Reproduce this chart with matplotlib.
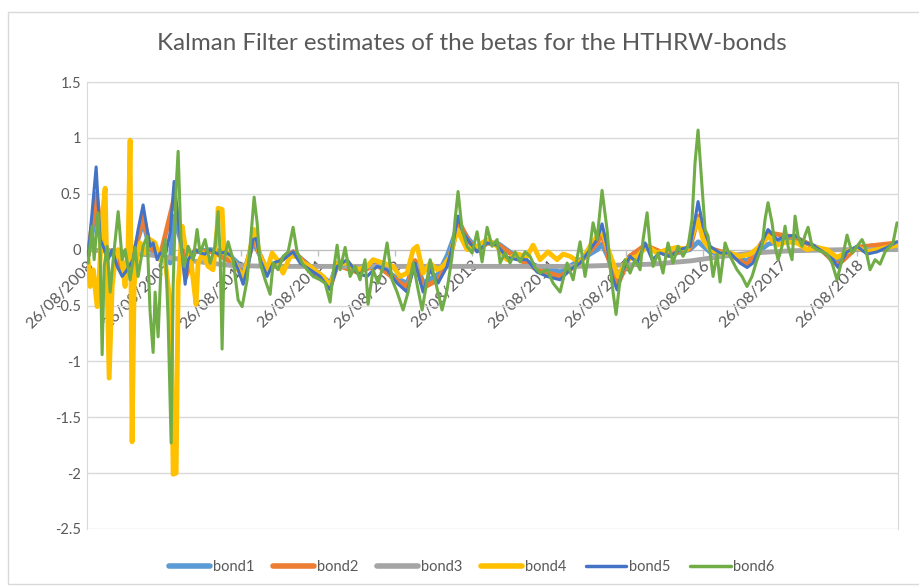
import matplotlib
matplotlib.use('Agg')
import matplotlib.pyplot as plt
from matplotlib.patches import Rectangle
from datetime import datetime

# ---- data (time in decimal years, value = beta) ----
bond1_t = [2008.665, 2008.77, 2008.86, 2009.0, 2009.11, 2009.25, 2009.38, 2009.47, 2009.6, 2009.73,
           2009.78, 2009.86, 2009.93, 2010.05, 2010.25, 2010.45, 2010.61, 2010.68, 2010.81, 2010.99,
           2011.2, 2011.33, 2011.55, 2011.81, 2011.9, 2012.16, 2012.42, 2012.68, 2012.81, 2012.91,
           2013.02, 2013.21, 2013.33, 2013.41, 2013.47, 2013.6, 2013.72, 2013.85, 2014.0, 2014.24,
           2014.5, 2014.8, 2015.06, 2015.28, 2015.34, 2015.47, 2015.54, 2015.7, 2015.9, 2016.2,
           2016.48, 2016.59, 2016.74, 2017.0, 2017.22, 2017.5, 2017.85, 2018.2, 2018.4, 2018.65,
           2019.171]
bond1_v = [-0.05, 0.35, 0.0, -0.05, -0.15, -0.05, 0.25, 0.0, -0.05, -0.12,
           0.3, 0.1, -0.2, -0.02, 0.0, -0.02, -0.12, -0.22, 0.07, -0.18,
           -0.08, -0.02, -0.15, -0.3, -0.13, -0.18, -0.13, -0.26, -0.3, -0.1,
           -0.3, -0.22, -0.05, 0.1, 0.24, 0.1, 0.0, 0.07, 0.05, -0.07,
           -0.15, -0.2, -0.09, 0.0, 0.05, -0.15, -0.27, -0.06, 0.03, -0.05,
           0.0, 0.07, -0.02, -0.05, -0.1, 0.05, 0.1, 0.0, -0.1, 0.02,
           0.05]

bond2_t = [2008.665, 2008.77, 2008.86, 2009.0, 2009.11, 2009.25, 2009.38, 2009.47, 2009.6, 2009.78,
           2009.86, 2009.93, 2010.05, 2010.3, 2010.61, 2010.68, 2010.81, 2010.99, 2011.2, 2011.33,
           2011.55, 2011.81, 2011.9, 2012.16, 2012.42, 2012.68, 2012.81, 2012.91, 2013.02, 2013.21,
           2013.33, 2013.41, 2013.47, 2013.6, 2013.72, 2013.85, 2014.0, 2014.24, 2014.5, 2014.8,
           2015.06, 2015.28, 2015.34, 2015.47, 2015.54, 2015.7, 2015.9, 2016.2, 2016.48, 2016.59,
           2016.66, 2016.74, 2017.0, 2017.22, 2017.5, 2017.85, 2018.2, 2018.4, 2018.65, 2019.171]
bond2_v = [-0.05, 0.5, 0.02, -0.03, -0.2, -0.07, 0.3, 0.02, -0.06, 0.45,
           0.2, -0.25, -0.01, -0.02, -0.15, -0.27, 0.1, -0.2, -0.08, -0.02,
           -0.16, -0.33, -0.14, -0.2, -0.14, -0.28, -0.34, -0.1, -0.34, -0.27,
           -0.13, 0.05, 0.27, 0.08, -0.01, 0.06, 0.04, -0.08, -0.18, -0.24,
           -0.11, 0.06, 0.15, -0.2, -0.32, -0.06, 0.04, -0.05, 0.01, 0.3,
           0.15, 0.01, -0.04, -0.14, 0.15, 0.11, -0.01, -0.14, 0.02, 0.06]

bond3_t = [2008.665, 2009.0, 2009.5, 2010.0, 2010.5, 2011.0, 2011.5, 2012.0, 2013.0, 2014.0,
           2015.0, 2015.5, 2016.0, 2016.5, 2016.9, 2017.3, 2017.8, 2018.5, 2019.171]
bond3_v = [0.0, -0.02, -0.05, -0.1, -0.14, -0.15, -0.15, -0.15, -0.15, -0.15,
           -0.15, -0.14, -0.13, -0.1, -0.06, -0.03, -0.01, 0.0, 0.0]

bond4_t = [2008.665, 2008.691, 2008.730, 2008.782, 2008.821, 2008.847, 2008.886, 2008.912, 2008.938, 2008.977,
           2009.016, 2009.055, 2009.107, 2009.145, 2009.184, 2009.210, 2009.223, 2009.236, 2009.262, 2009.301,
           2009.340, 2009.405, 2009.470, 2009.535, 2009.600, 2009.665, 2009.704, 2009.743, 2009.769, 2009.808,
           2009.834, 2009.886, 2009.925, 2009.990, 2010.029, 2010.067, 2010.093, 2010.158, 2010.223, 2010.288,
           2010.340, 2010.353, 2010.405, 2010.431, 2010.483, 2010.548, 2010.613, 2010.678, 2010.743, 2010.821,
           2010.899, 2010.990, 2011.055, 2011.119, 2011.197, 2011.288, 2011.379, 2011.457, 2011.548, 2011.639,
           2011.717, 2011.808, 2011.899, 2012.029, 2012.158, 2012.288, 2012.366, 2012.496, 2012.626, 2012.717,
           2012.808, 2012.886, 2012.938, 2013.016, 2013.107, 2013.197, 2013.275, 2013.366, 2013.457, 2013.522,
           2013.587, 2013.717, 2013.847, 2013.977, 2014.106, 2014.236, 2014.366, 2014.444, 2014.535, 2014.639,
           2014.756, 2014.834, 2014.925, 2015.055, 2015.184, 2015.275, 2015.340, 2015.405, 2015.483, 2015.548,
           2015.665, 2015.795, 2015.925, 2016.054, 2016.184, 2016.314, 2016.444, 2016.522, 2016.587, 2016.652,
           2016.743, 2016.873, 2017.003, 2017.132, 2017.262, 2017.392, 2017.496, 2017.613, 2017.743, 2017.873,
           2018.003, 2018.132, 2018.262, 2018.392, 2018.522, 2018.652, 2018.782, 2018.912, 2019.042, 2019.171]
bond4_v = [-0.09, -0.33, -0.18, -0.51, -0.09, 0.27, 0.55, -0.33, -1.15, -0.33,
           -0.09, 0.0, -0.12, -0.33, 0.03, 0.98, -0.33, -1.72, -0.33, -0.03,
           0.06, -0.03, 0.09, 0.06, -0.09, -0.09, -0.33, -0.51, -2.01, -2.0,
           -0.33, 0.21, 0.03, -0.03, -0.27, -0.49, -0.12, -0.03, -0.15, -0.18,
           0.18, 0.37, 0.36, -0.03, -0.03, -0.09, -0.18, -0.24, -0.09, 0.18,
           -0.06, -0.18, -0.03, -0.09, -0.21, -0.06, -0.06, -0.12, -0.15, -0.2,
           -0.24, -0.33, -0.12, -0.12, -0.18, -0.15, -0.09, -0.12, -0.15, -0.24,
           -0.21, 0.0, 0.03, -0.21, -0.12, -0.18, -0.15, -0.06, 0.18, 0.09,
           0.0, 0.03, 0.09, 0.03, -0.09, -0.04, -0.06, 0.04, -0.09, -0.02,
           -0.09, -0.04, -0.06, -0.12, 0.03, 0.12, 0.18, 0.03, -0.12, -0.24,
           -0.09, -0.06, 0.03, -0.03, 0.0, 0.02, 0.0, 0.15, 0.27, 0.09,
           0.0, -0.03, -0.03, -0.06, -0.04, 0.03, 0.12, 0.04, 0.07, 0.06,
           0.0, 0.02, 0.0, -0.07, -0.02, 0.02, -0.02, 0.0, 0.02, 0.04]

bond5_t = [2008.665, 2008.769, 2008.821, 2008.860, 2008.925, 2008.977, 2009.042, 2009.107, 2009.171, 2009.249,
           2009.314, 2009.379, 2009.431, 2009.470, 2009.509, 2009.561, 2009.600, 2009.665, 2009.730, 2009.782,
           2009.834, 2009.886, 2009.925, 2009.964, 2010.055, 2010.120, 2010.184, 2010.249, 2010.353, 2010.444,
           2010.535, 2010.613, 2010.678, 2010.743, 2010.808, 2010.847, 2010.899, 2010.990, 2011.068, 2011.197,
           2011.327, 2011.418, 2011.548, 2011.678, 2011.808, 2011.899, 2012.029, 2012.158, 2012.288, 2012.418,
           2012.548, 2012.678, 2012.808, 2012.912, 2013.016, 2013.107, 2013.210, 2013.327, 2013.405, 2013.470,
           2013.535, 2013.626, 2013.717, 2013.847, 2013.977, 2014.106, 2014.236, 2014.366, 2014.496, 2014.626,
           2014.795, 2014.925, 2015.055, 2015.184, 2015.275, 2015.340, 2015.405, 2015.470, 2015.535, 2015.613,
           2015.704, 2015.795, 2015.899, 2015.990, 2016.093, 2016.223, 2016.353, 2016.483, 2016.548, 2016.587,
           2016.652, 2016.743, 2016.873, 2017.003, 2017.132, 2017.223, 2017.301, 2017.392, 2017.496, 2017.613,
           2017.743, 2017.847, 2017.951, 2018.081, 2018.210, 2018.340, 2018.405, 2018.522, 2018.652, 2018.782,
           2018.912, 2019.042, 2019.171]
bond5_v = [-0.06, 0.74, 0.09, 0.03, -0.09, 0.0, -0.15, -0.24, -0.18, -0.09,
           0.18, 0.40, 0.18, 0.03, 0.06, -0.09, -0.03, -0.06, 0.15, 0.61,
           0.27, -0.03, -0.31, -0.09, 0.0, -0.03, -0.04, 0.0, -0.04, -0.02,
           -0.06, -0.18, -0.31, -0.15, 0.09, 0.10, -0.09, -0.24, -0.12, -0.09,
           -0.02, -0.12, -0.18, -0.24, -0.36, -0.15, -0.09, -0.21, -0.24, -0.15,
           -0.18, -0.30, -0.38, -0.12, -0.38, -0.18, -0.30, -0.15, 0.06, 0.30,
           0.15, 0.06, -0.02, 0.06, 0.04, -0.07, -0.09, -0.09, -0.20, -0.24,
           -0.27, -0.18, -0.12, 0.0, 0.09, 0.23, 0.03, -0.24, -0.36, -0.18,
           -0.06, -0.12, 0.06, -0.09, -0.03, -0.06, 0.0, 0.03, 0.27, 0.43,
           0.21, 0.03, -0.03, -0.03, -0.12, -0.16, -0.12, 0.03, 0.18, 0.09,
           0.12, 0.13, 0.07, 0.04, -0.02, -0.09, -0.16, -0.02, 0.03, -0.04,
           -0.02, 0.02, 0.07]

bond6_t = [2008.665, 2008.717, 2008.743, 2008.795, 2008.821, 2008.847, 2008.873, 2008.912, 2008.951, 2008.990,
           2009.055, 2009.107, 2009.145, 2009.210, 2009.275, 2009.314, 2009.379, 2009.431, 2009.470, 2009.509,
           2009.535, 2009.574, 2009.613, 2009.665, 2009.704, 2009.743, 2009.769, 2009.808, 2009.834, 2009.873,
           2009.912, 2009.964, 2010.029, 2010.080, 2010.119, 2010.184, 2010.249, 2010.314, 2010.353, 2010.379,
           2010.405, 2010.431, 2010.483, 2010.548, 2010.613, 2010.665, 2010.730, 2010.769, 2010.821, 2010.860,
           2010.899, 2010.964, 2011.029, 2011.068, 2011.132, 2011.197, 2011.262, 2011.327, 2011.379, 2011.444,
           2011.509, 2011.587, 2011.678, 2011.743, 2011.808, 2011.847, 2011.899, 2011.938, 2012.003, 2012.068,
           2012.132, 2012.197, 2012.262, 2012.301, 2012.366, 2012.431, 2012.496, 2012.548, 2012.613, 2012.678,
           2012.756, 2012.821, 2012.886, 2012.951, 2013.003, 2013.068, 2013.107, 2013.171, 2013.262, 2013.327,
           2013.392, 2013.431, 2013.470, 2013.522, 2013.587, 2013.652, 2013.717, 2013.782, 2013.847, 2013.912,
           2013.977, 2014.016, 2014.080, 2014.145, 2014.210, 2014.275, 2014.340, 2014.405, 2014.470, 2014.535,
           2014.626, 2014.704, 2014.795, 2014.886, 2014.964, 2015.055, 2015.119, 2015.184, 2015.223, 2015.275,
           2015.340, 2015.405, 2015.444, 2015.483, 2015.522, 2015.574, 2015.639, 2015.704, 2015.769, 2015.834,
           2015.873, 2015.925, 2015.964, 2016.003, 2016.067, 2016.132, 2016.197, 2016.262, 2016.327, 2016.392,
           2016.457, 2016.509, 2016.548, 2016.587, 2016.639, 2016.678, 2016.717, 2016.782, 2016.834, 2016.873,
           2016.938, 2017.003, 2017.093, 2017.158, 2017.223, 2017.288, 2017.353, 2017.418, 2017.457, 2017.496,
           2017.548, 2017.587, 2017.626, 2017.678, 2017.717, 2017.756, 2017.808, 2017.847, 2017.886, 2017.938,
           2017.977, 2018.016, 2018.067, 2018.132, 2018.197, 2018.262, 2018.327, 2018.392, 2018.457, 2018.522,
           2018.587, 2018.652, 2018.717, 2018.756, 2018.821, 2018.886, 2018.951, 2019.016, 2019.080, 2019.119,
           2019.171]
bond6_v = [-0.12, 0.21, -0.09, 0.33, -0.03, -0.94, -0.15, 0.03, -0.38, -0.09,
           0.34, -0.09, 0.0, -0.27, 0.02, -0.24, 0.03, 0.12, -0.56, -0.92,
           -0.38, -0.78, -0.12, 0.09, -0.63, -1.73, -0.33, 0.56, 0.88, 0.03,
           -0.15, 0.03, -0.09, 0.18, -0.03, 0.09, -0.12, 0.03, 0.34, -0.03,
           -0.89, -0.09, 0.07, -0.09, -0.45, -0.51, -0.27, 0.03, 0.47, 0.24,
           -0.12, -0.27, -0.40, -0.12, -0.18, -0.06, -0.02, 0.20, -0.02, -0.12,
           -0.18, -0.24, -0.27, -0.30, -0.47, -0.21, 0.04, -0.18, 0.02, -0.24,
           -0.15, -0.27, -0.09, -0.49, -0.18, -0.30, -0.15, 0.06, -0.27, -0.38,
           -0.54, -0.38, -0.12, -0.36, -0.54, -0.27, -0.09, -0.27, -0.54, -0.36,
           -0.06, 0.27, 0.52, 0.18, 0.03, -0.03, 0.16, -0.11, 0.20, 0.03,
           0.09, -0.12, -0.03, -0.12, -0.02, -0.11, -0.02, -0.06, -0.16, -0.21,
           -0.18, -0.30, -0.38, -0.12, -0.27, 0.07, -0.24, 0.03, 0.24, 0.09,
           0.53, 0.18, -0.15, -0.38, -0.58, -0.27, -0.09, -0.21, -0.09, -0.18,
           0.09, 0.33, 0.03, -0.15, -0.03, -0.21, 0.06, -0.12, 0.03, -0.06,
           0.03, 0.27, 0.78, 1.07, 0.56, 0.18, 0.12, -0.24, -0.04, -0.29,
           0.06, -0.06, -0.18, -0.24, -0.33, -0.24, -0.09, 0.03, 0.27, 0.42,
           0.24, 0.03, -0.09, 0.03, 0.21, 0.03, -0.09, 0.30, 0.12, 0.03,
           0.13, 0.20, 0.03, 0.0, -0.02, -0.04, -0.12, -0.27, -0.09, 0.13,
           -0.03, 0.03, 0.09, 0.03, -0.18, -0.09, -0.13, -0.02, 0.03, 0.06,
           0.24]

series_names = ['bond1', 'bond2', 'bond3', 'bond4', 'bond5', 'bond6']
tick_labels = ['26/08/2008', '26/08/2009', '26/08/2010', '26/08/2011', '26/08/2012', '26/08/2013',
               '26/08/2014', '26/08/2015', '26/08/2016', '26/08/2017', '26/08/2018']
y_ticks = [-2.5, -2, -1.5, -1, -0.5, 0, 0.5, 1, 1.5]
y_labels = ['-2.5', '-2', '-1.5', '-1', '-0.5', '0', '0.5', '1', '1.5']

colors = ['#5B9BD5', '#ED7D31', '#A5A5A5', '#FFC000', '#4472C4', '#70AD47']
widths = [3.5, 3.5, 3.5, 3.5, 2.2, 2.2]
txt = '#595959'
grid_c = '#D9D9D9'


def dec_year(s):
    d = datetime.strptime(s, '%d/%m/%Y')
    n = (datetime(d.year + 1, 1, 1) - datetime(d.year, 1, 1)).days
    return d.year + (d - datetime(d.year, 1, 1)).days / n


plt.rcParams['font.family'] = ['Lato', 'DejaVu Sans']

W, H = 919, 587
fig = plt.figure(figsize=(W / 100, H / 100), dpi=100)

# chart area border (right side cut by the screenshot)
fig.patches.append(Rectangle((8 / W, 1 - 584 / H), 1.0, (584 - 12) / H, transform=fig.transFigure,
                             fill=False, edgecolor=grid_c, linewidth=1.0))

ax = fig.add_axes([87 / W, 1 - 529 / H, 811 / W, 447 / H])

# move the category axis to y=0 first (set_position resets the ticks)
ax.spines['bottom'].set_position(('data', 0))
ax.spines['bottom'].set_color('#BFBFBF')
ax.spines['bottom'].set_zorder(2)
for side in ['left', 'right', 'top']:
    ax.spines[side].set_color(grid_c)

times = [bond1_t, bond2_t, bond3_t, bond4_t, bond5_t, bond6_t]
values = [bond1_v, bond2_v, bond3_v, bond4_v, bond5_v, bond6_v]
for t, v, name, c, lw in zip(times, values, series_names, colors, widths):
    ax.plot(t, v, color=c, lw=lw, label=name, solid_joinstyle='round', solid_capstyle='round', zorder=3)

ax.set_ylim(-2.5, 1.5)
ax.set_xlim(dec_year(tick_labels[0]), 2019.184)
ax.set_yticks(y_ticks)
ax.set_yticklabels(y_labels)
ax.yaxis.grid(True, color=grid_c, lw=1.0)
ax.set_axisbelow(True)
ax.tick_params(axis='y', length=0, pad=4, labelsize=10.5, labelcolor=txt)

ax.set_xticks([dec_year(s) for s in tick_labels])
ax.set_xticklabels(tick_labels)
ax.tick_params(axis='x', length=4, width=1, color='#BFBFBF', pad=2, labelsize=11.5, labelcolor=txt,
               labelrotation=45)
for lab in ax.get_xticklabels():
    lab.set_horizontalalignment('right')
    lab.set_verticalalignment('top')
    lab.set_rotation_mode('anchor')

fig.text(472 / W, 1 - 43 / H, 'Kalman Filter estimates of the betas for the HTHRW-bonds',
         ha='center', va='center', fontsize=17.4, color=txt)

leg = fig.legend(loc='center', bbox_to_anchor=(472 / W, 1 - 567 / H), ncol=6, frameon=False,
                 fontsize=10.5, handlelength=2.8, handletextpad=0.2, columnspacing=1.3)
for txt_item in leg.get_texts():
    txt_item.set_color(txt)
for h, lw in zip(leg.get_lines(), [4.0, 4.0, 4.0, 4.0, 2.5, 2.5]):
    h.set_linewidth(lw)

fig.savefig('out.png', dpi=100)
